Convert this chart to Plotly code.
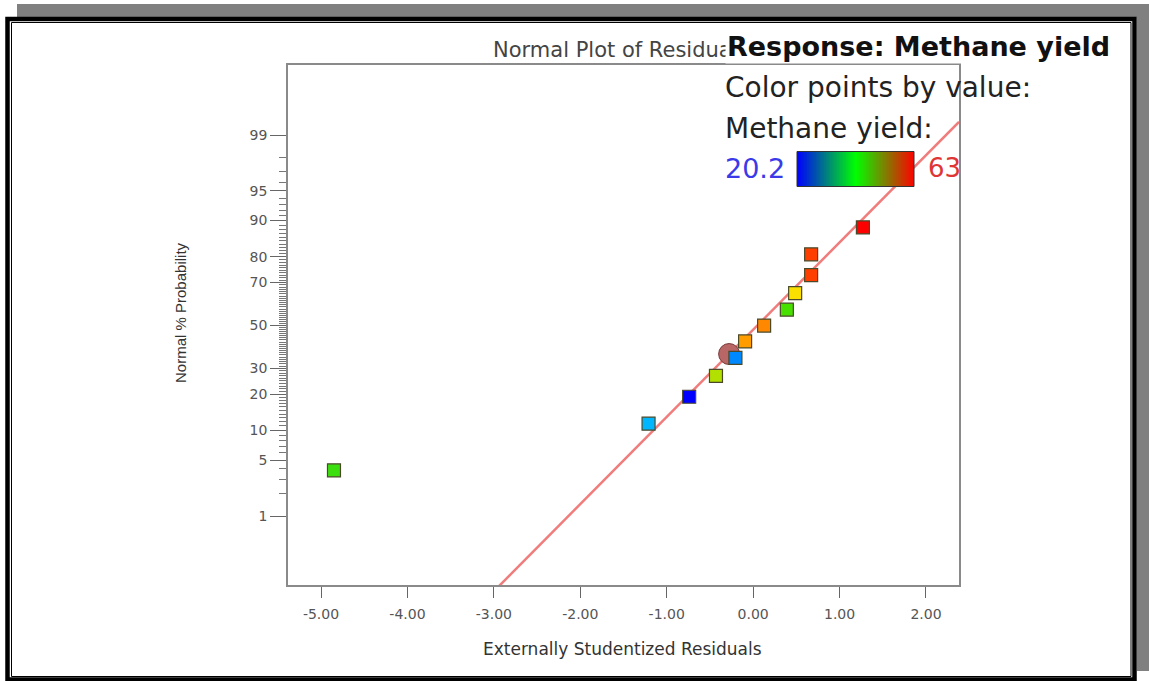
import numpy as np
import plotly.graph_objects as go
from statistics import NormalDist

# ---------------- data ----------------
residuals = [-4.85, -1.21, -0.74, -0.43, -0.205, -0.093, 0.127, 0.39, 0.486, 0.671, 0.671, 1.27]
probabilities = [3.85, 11.54, 19.23, 26.92, 34.62, 42.31, 50.0, 57.69, 65.38, 73.08, 80.77, 88.46]
methane_yield = [41.0, 30.0, 20.2, 48.0, 27.5, 55.5, 56.5, 42.0, 52.0, 60.0, 60.0, 63.0]
highlight_residual = [-0.278]
highlight_prob = [36.4]
line_mean = 0.047
line_sd = 0.939
yield_min = 20.2
yield_max = 63
major_probs = [1, 5, 10, 20, 30, 50, 70, 80, 90, 95, 99]
minor_probs = [2, 3, 4, 6, 7, 8, 9] + [p for p in range(11, 90) if p not in major_probs] + [91, 92, 93, 94, 96, 97, 98]
x_ticks = [-5, -4, -3, -2, -1, 0, 1, 2]

nd = NormalDist()
def z(p):
    return nd.inv_cdf(p / 100.0)

# ---------------- layout geometry (pixels) ----------------
W, H = 1149, 681
L, R, T, B = 288, 959, 65, 585
PW, PH = R - L, B - T

def px(x):
    return (x - L) / PW

def py(y):
    return (B - y) / PH

FONT = "DejaVu Sans, Open Sans"

fig = go.Figure()

# fitted normal line
xr = [-5.382, 2.382]
xl = np.linspace(xr[0], xr[1], 50)
fig.add_trace(go.Scatter(
    x=xl, y=(xl - line_mean) / line_sd, mode="lines",
    line=dict(color="#f07c7c", width=2.5), hoverinfo="skip", showlegend=False))

# highlighted point (circle)
fig.add_trace(go.Scatter(
    x=highlight_residual, y=[z(p) for p in highlight_prob], mode="markers",
    marker=dict(symbol="circle", size=21, color="#b86666",
                line=dict(color="#7a3a3a", width=1)),
    showlegend=False))

# residual points
rainbow = [[0.0, "#0000ff"], [0.25, "#00c8ff"], [0.5, "#40e000"],
           [0.75, "#ffe000"], [1.0, "#ff0000"]]
fig.add_trace(go.Scatter(
    x=residuals, y=[z(p) for p in probabilities], mode="markers",
    marker=dict(symbol="square", size=13, color=methane_yield,
                colorscale=rainbow, cmin=yield_min, cmax=yield_max,
                line=dict(color="#4a4a2a", width=1.2)),
    showlegend=False))

# colour bar legend as a heatmap on its own axes
grad = np.linspace(yield_min, yield_max, 200)
fig.add_trace(go.Heatmap(
    z=[grad], x=grad, y=[0], xaxis="x2", yaxis="y2",
    colorscale=[[0, "#0000ff"], [0.5, "#00ff00"], [1, "#ff0000"]],
    zmin=yield_min, zmax=yield_max, showscale=False, hoverinfo="skip"))

shapes = []
# outer page decoration
shapes.append(dict(type="rect", xref="paper", yref="paper",
                   x0=px(17), x1=px(1149), y0=py(4), y1=py(17),
                   fillcolor="#808080", line=dict(width=0), layer="below"))
shapes.append(dict(type="rect", xref="paper", yref="paper",
                   x0=px(1137), x1=px(1149), y0=py(17), y1=py(671),
                   fillcolor="#808080", line=dict(width=0), layer="below"))
shapes.append(dict(type="rect", xref="paper", yref="paper",
                   x0=px(7.5), x1=px(1134.5), y0=py(19), y1=py(679.5),
                   line=dict(color="black", width=4.5)))
shapes.append(dict(type="rect", xref="paper", yref="paper",
                   x0=px(11.5), x1=px(1131), y0=py(22.5), y1=py(676.5),
                   line=dict(color="black", width=1)))
# colour bar border
shapes.append(dict(type="rect", xref="paper", yref="paper",
                   x0=px(797), x1=px(914), y0=py(151.5), y1=py(186.5),
                   line=dict(color="#333", width=1)))

annotations = [
    dict(text="Normal Plot of Residuals", xref="paper", yref="paper",
         x=px(620), y=py(50), showarrow=False, xanchor="center", yanchor="middle",
         font=dict(family=FONT, size=21, color="#444")),
    dict(text="<b>Response: Methane yield</b>", xref="paper", yref="paper",
         x=px(725), y=py(47), showarrow=False, xanchor="left", yanchor="middle",
         bgcolor="white", font=dict(family=FONT, size=27, color="#111")),
    dict(text="Color points by value:", xref="paper", yref="paper",
         x=px(723), y=py(88), showarrow=False, xanchor="left", yanchor="middle",
         font=dict(family=FONT, size=28, color="#222")),
    dict(text="Methane yield:", xref="paper", yref="paper",
         x=px(723), y=py(128), showarrow=False, xanchor="left", yanchor="middle",
         font=dict(family=FONT, size=28, color="#222")),
    dict(text=f"{yield_min}", xref="paper", yref="paper",
         x=px(723), y=py(168), showarrow=False, xanchor="left", yanchor="middle",
         font=dict(family=FONT, size=27, color="#3a3ae8")),
    dict(text=f"{yield_max}", xref="paper", yref="paper",
         x=px(926), y=py(168), showarrow=False, xanchor="left", yanchor="middle",
         font=dict(family=FONT, size=26, color="#e03535")),
    dict(text="Externally Studentized Residuals", xref="paper", yref="paper",
         x=px(622), y=py(649), showarrow=False, xanchor="center", yanchor="middle",
         font=dict(family=FONT, size=17, color="#333")),
    dict(text="Normal % Probability", xref="paper", yref="paper",
         x=px(180), y=py(313), showarrow=False, xanchor="center", yanchor="middle",
         textangle=-90,
         font=dict(family="Liberation Sans Narrow, Liberation Sans", size=15, color="#333")),
]

fig.update_layout(
    width=W, height=H, autosize=False,
    margin=dict(l=L, r=W - R, t=T, b=H - B, pad=0),
    paper_bgcolor="white", plot_bgcolor="white",
    showlegend=False,
    shapes=shapes, annotations=annotations,
    xaxis=dict(range=xr, tickvals=x_ticks, ticktext=[f"{v:.2f}" for v in x_ticks],
               showgrid=False, zeroline=False, showline=True, mirror=True,
               linecolor="#8a8a8a", linewidth=1.5,
               ticks="outside", ticklen=11, tickwidth=1.2, tickcolor="#666",
               ticklabelstandoff=4,
               tickfont=dict(family=FONT, size=14, color="#555")),
    yaxis=dict(range=[-3.168, 3.181],
               tickvals=[z(p) for p in major_probs], ticktext=[str(p) for p in major_probs],
               showgrid=False, zeroline=False, showline=True, mirror=True,
               linecolor="#8a8a8a", linewidth=1.5,
               ticks="outside", ticklen=16, tickwidth=1.2, tickcolor="#666",
               tickfont=dict(family=FONT, size=14, color="#555"),
               minor=dict(tickmode="array", tickvals=[z(p) for p in minor_probs],
                          ticks="outside", ticklen=7, tickwidth=0.8, tickcolor="#777",
                          showgrid=False)),
    xaxis2=dict(domain=[px(797), px(914)], anchor="y2", visible=False,
                range=[yield_min, yield_max]),
    yaxis2=dict(domain=[py(186.5), py(151.5)], anchor="x2", visible=False,
                range=[-0.5, 0.5]),
)

fig.write_html("out.html")
